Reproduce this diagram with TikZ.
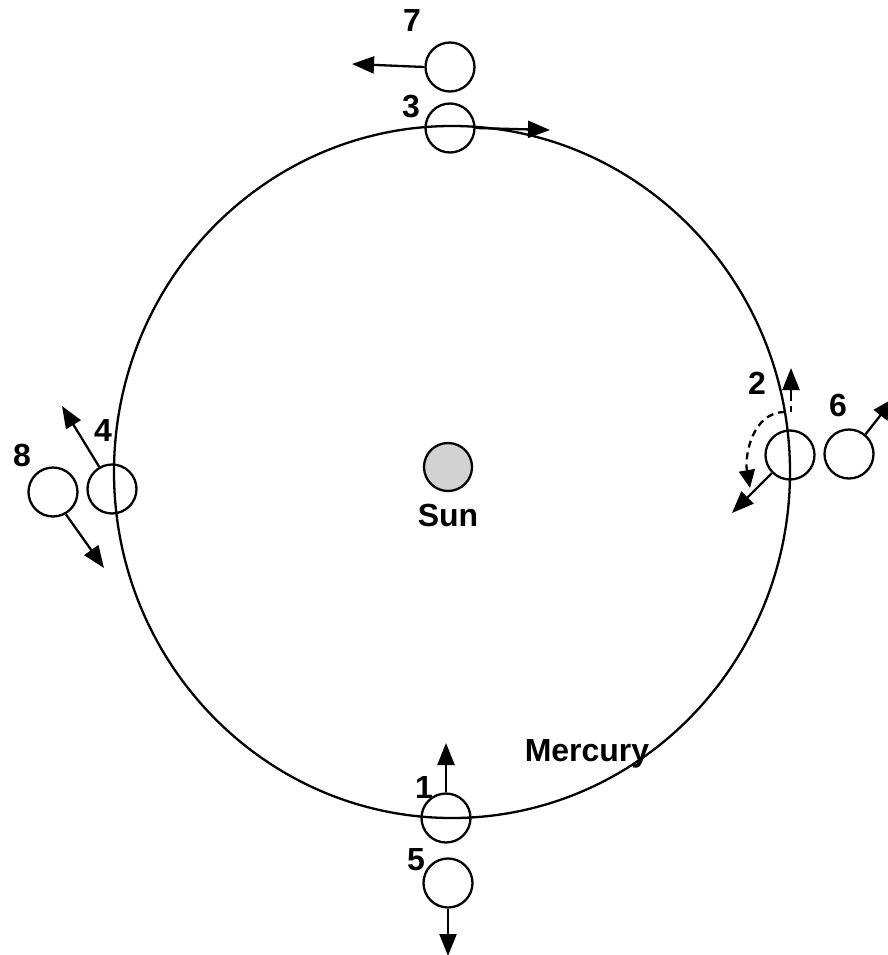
\documentclass[tikz,border=0pt]{standalone}
\usepackage{fontspec}
\setmainfont{Liberation Sans}
\usetikzlibrary{arrows.meta, positioning}

\begin{document}
\begin{tikzpicture}[
  x=1pt, y=-1pt,
  planet/.style={draw, circle, line width=2.3pt, minimum size=49pt, inner sep=0pt},
  sunbody/.style={draw, circle, line width=2.3pt, minimum size=48pt, inner sep=0pt, fill=gray!35},
  num/.style={font=\fontsize{32}{38}\selectfont\bfseries, inner sep=0pt},
  move/.style={-{Triangle[length=22pt,width=17pt]}, line width=2.3pt},
  swing/.style={dash pattern=on 7pt off 5pt, line width=2.3pt}
]
\useasboundingbox (0,0) rectangle (888,955);

% orbit and sun
\draw[line width=2.3pt] (452,472) ellipse [x radius=338, y radius=346];
\node[sunbody] (sun) at (448,467) {};
\node[num, below=12pt of sun] {Sun};
\node[num] (merc) at (587,754) {Mercury};

% positions on the orbit
\node[planet] (p1) at (446,818) {};
\node[planet] (p2) at (790,455) {};
\node[planet] (p3) at (450,128) {};
\node[planet] (p4) at (112,489) {};
% positions off the orbit
\node[planet] (p5) at (448,883) {};
\node[planet] (p6) at (849,454) {};
\node[planet] (p7) at (450,67) {};
\node[planet] (p8) at (53,492) {};

\node[num] at (424,787) {1};
\node[num] at (757,383) {2};
\node[num] at (411,107) {3};
\node[num] at (103,430) {4};
\node[num] at (416,860) {5};
\node[num] at (838,405) {6};
\node[num] at (412,20) {7};
\node[num] at (22,455) {8};

\coordinate (t1) at (446,743);
\coordinate (t2) at (791,368);
\coordinate (t2b) at (732,513);
\coordinate (t3) at (550,130);
\coordinate (t4) at (62,406);
\coordinate (t5) at (448,956);
\coordinate (t6) at (894,398);
\coordinate (t7) at (352,64);
\coordinate (t8) at (104,568);
\coordinate (d2) at (785,412);
\coordinate (d2e) at (750,488);

\draw[move] (p1.north) -- (t1);
\draw[move] (791,394) -- (t2);
\draw[swing] (791,394) -- (791,412);
\draw[move] (p2.225) -- (t2b);
\draw[swing, -{Triangle[length=18pt,width=16pt]}] (d2) to[out=180, in=100] (d2e);
\draw[move] (p3.east) -- (t3);
\draw[move] (p4.120) -- (t4);
\draw[move] (p5.south) -- (t5);
\draw[move] (p6.50) -- (t6);
\draw[move] (p7.west) -- (t7);
\draw[move] (p8.300) -- (t8);
\end{tikzpicture}
\end{document}
